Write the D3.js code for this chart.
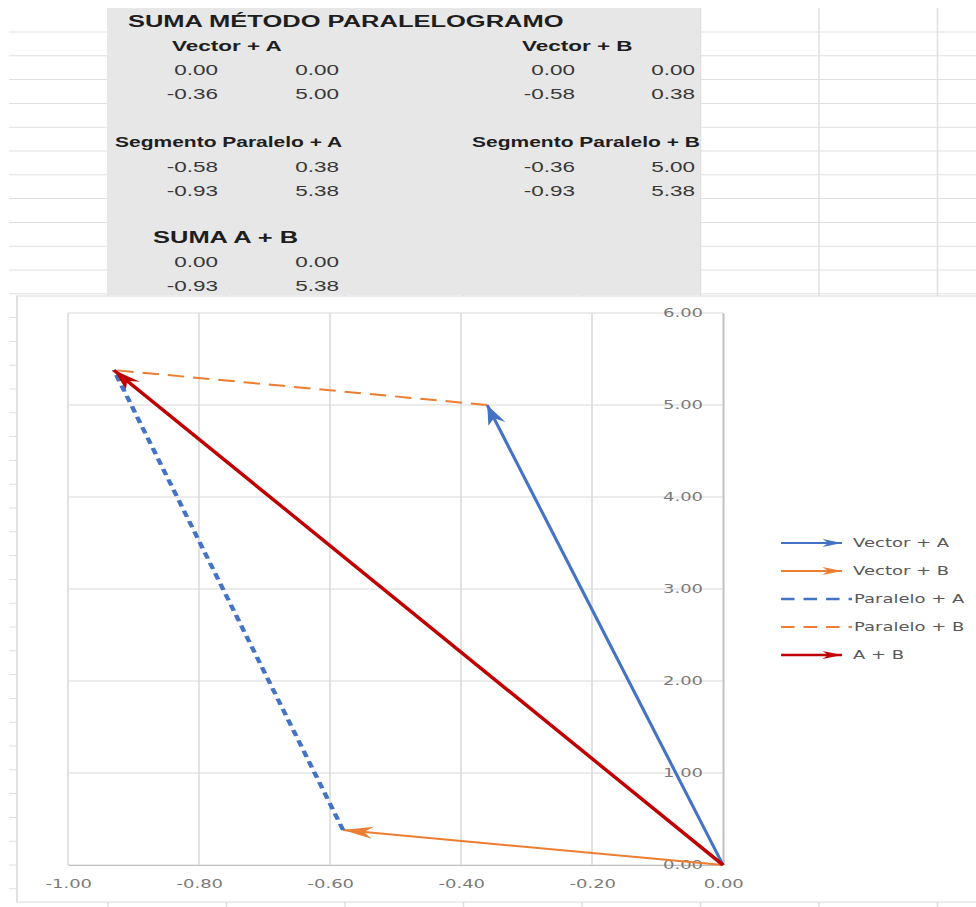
<!DOCTYPE html>
<html>
<head>
<meta charset="utf-8">
<script src="https://cdn.jsdelivr.net/npm/d3@7"></script>
<style>
  body { margin: 0; background: #fff; }
  svg { display: block; }
</style>
</head>
<body>
<script>
// the picture is stretched about 1.5x sideways, so everything is drawn in a
// narrower coordinate system and then scaled
const width = 976;
const height = 907;
const sx = 1.5;
const iw = width / sx;

// data (x, y pairs read from the sheet)
const vectorA = [[0.00, 0.00], [-0.36, 5.00]];
const vectorB = [[0.00, 0.00], [-0.58, 0.38]];
const paraleloA = [[-0.58, 0.38], [-0.93, 5.38]];
const paraleloB = [[-0.36, 5.00], [-0.93, 5.38]];
const sumaAB = [[0.00, 0.00], [-0.93, 5.38]];

const seriesNames = ['Vector + A', 'Vector + B', 'Paralelo + A', 'Paralelo + B', 'A + B'];
const xTicks = [-1.00, -0.80, -0.60, -0.40, -0.20, 0.00];
const yTicks = [0, 1, 2, 3, 4, 5, 6];

const blue = '#4472c4';
const orange = '#ed7d31';
const red = '#c00000';
// plain hyphen for negatives, like the sheet
const fmt = d => (Math.abs(d) < 1e-9 ? 0 : d).toFixed(2);

const svg = d3.select('body')
    .append('svg')
    .attr('width', width)
    .attr('height', height);

const g = svg.append('g').attr('transform', `scale(${sx},1)`);

// spreadsheet grid in the background
const rows = d3.range(0, 37).map(i => 32 + i * 23.8).filter(v => v < height);
const cols = d3.range(0, 8).map(i => 72 + i * 79);

g.append('g').selectAll('line')
    .data(rows)
    .enter().append('line')
    .attr('x1', 6).attr('x2', iw)
    .attr('y1', d => d).attr('y2', d => d)
    .style('stroke', '#e0e0e0');

g.append('g').selectAll('line')
    .data(cols)
    .enter().append('line')
    .attr('x1', d => d).attr('x2', d => d)
    .attr('y1', 8).attr('y2', height)
    .style('stroke', '#e0e0e0');

// grey block with the table
g.append('rect')
    .attr('x', 71.3).attr('y', 8)
    .attr('width', 395.4).attr('height', 287)
    .style('fill', '#e7e7e7');

const txt = (x, y, s, size, bold, anchor) => g.append('text')
    .attr('x', x).attr('y', y)
    .attr('text-anchor', anchor || 'start')
    .style('font-family', '"Liberation Sans", Arial, sans-serif')
    .style('font-size', size + 'px')
    .style('font-weight', bold ? 'bold' : 'normal')
    .style('fill', bold ? '#1e1e1e' : '#383838')
    .text(s);

txt(85.3, 27, 'SUMA MÉTODO PARALELOGRAMO', 17, true);
txt(114.7, 51, 'Vector + A', 15, true);
txt(348, 51, 'Vector + B', 15, true);
txt(76.7, 147, 'Segmento Paralelo + A', 14, true);
txt(314.7, 147, 'Segmento Paralelo + B', 14, true);
txt(102, 243, 'SUMA A + B', 17, true);

function tablePairs(pts, c1, c2, y0) {
    pts.forEach((p, i) => {
        txt(c1, y0 + i * 24, fmt(p[0]), 15, false, 'end');
        txt(c2, y0 + i * 24, fmt(p[1]), 15, false, 'end');
    });
}
tablePairs(vectorA, 145.3, 226, 75);
tablePairs(vectorB, 383.3, 463.3, 75);
tablePairs(paraleloA, 145.3, 226, 172);
tablePairs(paraleloB, 383.3, 463.3, 172);
tablePairs(sumaAB, 145.3, 226, 267);

// chart area
g.append('rect')
    .attr('x', 11.3).attr('y', 296)
    .attr('width', iw).attr('height', 606)
    .style('fill', '#fff')
    .style('stroke', '#d9d9d9');

const x = d3.scaleLinear().domain([-1, 0]).range([45.33, 482]);
const y = d3.scaleLinear().domain([0, 6]).range([865, 313]);

// gridlines
g.append('g').selectAll('line')
    .data(xTicks)
    .enter().append('line')
    .attr('x1', d => x(d)).attr('x2', d => x(d))
    .attr('y1', y(0)).attr('y2', y(6))
    .style('stroke', '#d9d9d9');

g.append('g').selectAll('line')
    .data(yTicks)
    .enter().append('line')
    .attr('x1', x(-1)).attr('x2', x(0))
    .attr('y1', d => y(d)).attr('y2', d => y(d))
    .style('stroke', '#d9d9d9');

const xAxis = g.append('g')
    .attr('transform', `translate(0,${y(0)})`)
    .call(d3.axisBottom(x).tickValues(xTicks).tickSize(0).tickSizeOuter(0).tickPadding(14).tickFormat(fmt));

const yAxis = g.append('g')
    .attr('transform', `translate(${x(0)},0)`)
    .call(d3.axisLeft(y).tickValues(yTicks).tickSize(0).tickSizeOuter(0).tickPadding(13.3).tickFormat(fmt));

[xAxis, yAxis].forEach(a => {
    a.select('.domain').style('stroke', '#bfbfbf');
    a.selectAll('text')
        .style('font-family', '"DejaVu Sans", Verdana, sans-serif')
        .style('font-size', '12px')
        .style('fill', '#7a7a7a');
});

// arrow heads
const defs = svg.append('defs');
function marker(id, color, len, hw) {
    defs.append('marker')
        .attr('id', id)
        .attr('viewBox', `${-len - 1} ${-hw - 1} ${len + 2} ${2 * hw + 2}`)
        .attr('refX', 0).attr('refY', 0)
        .attr('markerWidth', len + 2).attr('markerHeight', 2 * hw + 2)
        .attr('markerUnits', 'userSpaceOnUse')
        .attr('orient', 'auto')
        .append('path')
        .attr('d', `M0,0L${-len},${-hw}L${-len * 0.7},0L${-len},${hw}Z`)
        .style('fill', color);
}
marker('arrA', blue, 20, 6);
marker('arrB', orange, 20, 6);
marker('arrS', red, 20, 6);
marker('legA', blue, 13, 4);
marker('legB', orange, 13, 4);
marker('legS', red, 13, 4);

const series = [
    { name: seriesNames[0], pts: vectorA, color: blue, w: 2.2, dash: null, m: 'arrA', lm: 'legA' },
    { name: seriesNames[1], pts: vectorB, color: orange, w: 2, dash: null, m: 'arrB', lm: 'legB' },
    { name: seriesNames[2], pts: paraleloA, color: blue, w: 3, dash: '6.5,4.5', ldash: '9,6', m: null },
    { name: seriesNames[3], pts: paraleloB, color: orange, w: 2, dash: '11,6', ldash: '9,6', m: null },
    { name: seriesNames[4], pts: sumaAB, color: red, w: 2.8, dash: null, m: 'arrS', lm: 'legS' }
];

const line = d3.line().x(d => x(d[0])).y(d => y(d[1]));

g.append('g').selectAll('path')
    .data(series)
    .enter().append('path')
    .attr('d', d => line(d.pts))
    .style('fill', 'none')
    .style('stroke', d => d.color)
    .style('stroke-width', d => d.w)
    .style('stroke-dasharray', d => d.dash)
    .attr('marker-end', d => d.m ? `url(#${d.m})` : null);

// legend
const legend = g.append('g').selectAll('g')
    .data(series)
    .enter().append('g')
    .attr('transform', (d, i) => `translate(520.7,${543 + i * 28})`);

legend.append('line')
    .attr('x1', 0)
    .attr('x2', d => d.m ? 40.6 : 47.3)
    .attr('y1', 0).attr('y2', 0)
    .style('stroke', d => d.color)
    .style('stroke-width', d => Math.min(d.w, 2.5))
    .style('stroke-dasharray', d => d.ldash || null)
    .attr('marker-end', d => d.lm ? `url(#${d.lm})` : null);

legend.append('text')
    .attr('x', d => d.m ? 48 : 48.6)
    .attr('y', 0)
    .attr('dy', '0.36em')
    .style('font-family', '"DejaVu Sans", Verdana, sans-serif')
    .style('font-size', '12px')
    .style('fill', '#595959')
    .text(d => d.name);
</script>
</body>
</html>
